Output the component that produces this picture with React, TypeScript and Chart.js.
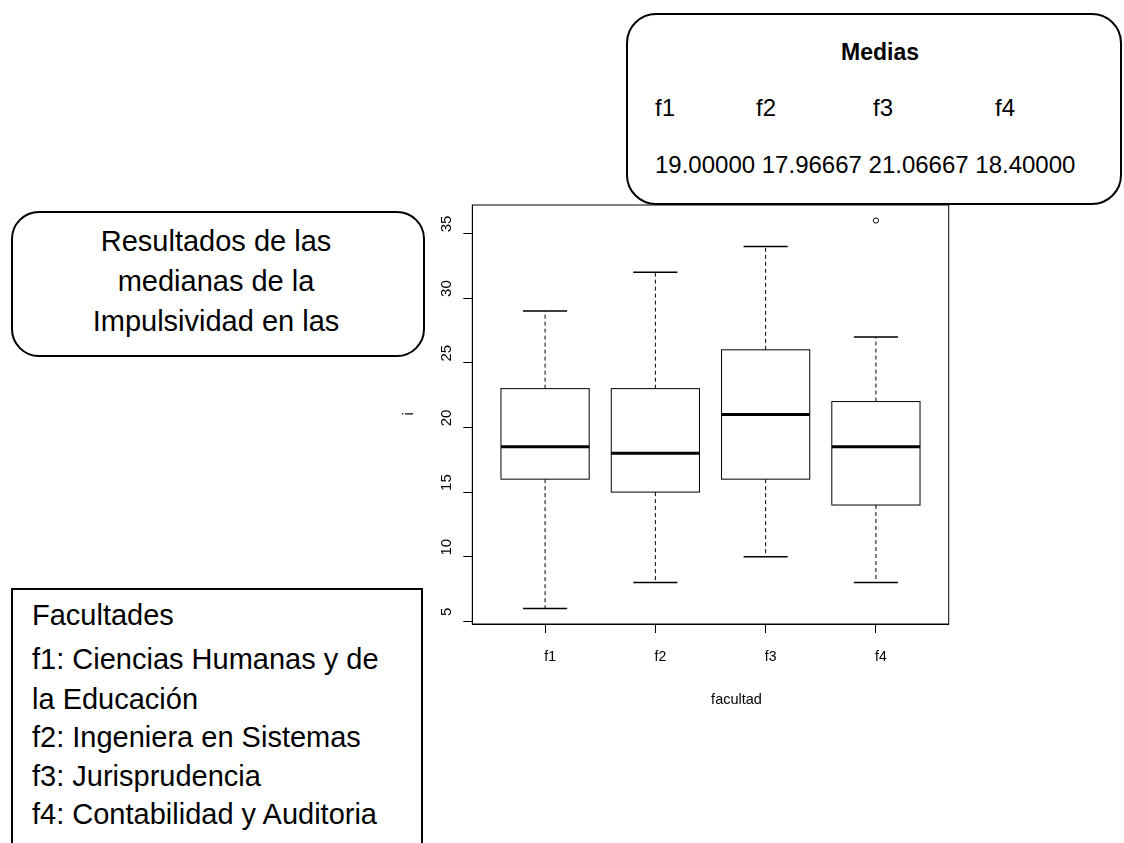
import React, { useEffect, useRef } from "react";
import { Chart, registerables } from "chart.js";

Chart.register(...registerables);

// ---- data ----
const categories = ["f1", "f2", "f3", "f4"];
const whiskerLow = [6, 8, 10, 8];
const q1 = [16, 15, 16, 14];
const medians = [18.5, 18, 21, 18.5];
const q3 = [23, 23, 26, 22];
const whiskerHigh = [29, 32, 34, 27];
const outlierGroups = [4];
const outlierValues = [36];
const yTicks = [5, 10, 15, 20, 25, 30, 35];
const xTitle = "facultad";
const yTitle = "i";

const meanTitle = "Medias";
const meanLabels = ["f1", "f2", "f3", "f4"];
const meanValues = ["19.00000", "17.96667", "21.06667", "18.40000"];
const noteLines = ["Resultados de las", "medianas de la", "Impulsividad en las"];
const facultyLines = [
  "Facultades",
  "f1: Ciencias Humanas y de",
  "la Educación",
  "f2: Ingeniera en Sistemas",
  "f3: Jurisprudencia",
  "f4: Contabilidad y Auditoria",
];

const FONT = '"Liberation Sans", Arial, Helvetica, sans-serif';

const boxPlugin = {
  id: "rBoxes",
  beforeDatasetsDraw(chart: any) {
    const { ctx } = chart;
    const x = chart.scales.x;
    const y = chart.scales.y;
    const py = (v: number) => y.getPixelForValue(v);
    ctx.save();
    ctx.strokeStyle = "#000";
    categories.forEach((_, i) => {
      const cx = x.getPixelForValue(i + 1);
      const half = x.getPixelForValue(i + 1.4) - cx;
      const cap = half / 2;
      // whiskers
      ctx.lineWidth = 1;
      ctx.setLineDash([4, 3]);
      ctx.beginPath();
      ctx.moveTo(cx, py(q3[i]));
      ctx.lineTo(cx, py(whiskerHigh[i]));
      ctx.moveTo(cx, py(q1[i]));
      ctx.lineTo(cx, py(whiskerLow[i]));
      ctx.stroke();
      ctx.setLineDash([]);
      // staples
      ctx.lineWidth = 1.5;
      ctx.beginPath();
      ctx.moveTo(cx - cap, py(whiskerHigh[i]));
      ctx.lineTo(cx + cap, py(whiskerHigh[i]));
      ctx.moveTo(cx - cap, py(whiskerLow[i]));
      ctx.lineTo(cx + cap, py(whiskerLow[i]));
      ctx.stroke();
      // box
      const top = py(q3[i]);
      const bot = py(q1[i]);
      ctx.fillStyle = "#fff";
      ctx.fillRect(cx - half, top, 2 * half, bot - top);
      ctx.lineWidth = 1;
      ctx.strokeRect(cx - half, top, 2 * half, bot - top);
      // median
      ctx.lineWidth = 3;
      ctx.beginPath();
      ctx.moveTo(cx - half, py(medians[i]));
      ctx.lineTo(cx + half, py(medians[i]));
      ctx.stroke();
    });
    ctx.restore();
  },
  afterDraw(chart: any) {
    const { ctx, chartArea } = chart;
    const y = chart.scales.y;
    ctx.save();
    // full frame like R's box()
    ctx.strokeStyle = "#000";
    ctx.lineWidth = 1;
    ctx.strokeRect(
      chartArea.left,
      chartArea.top,
      chartArea.right - chartArea.left,
      chartArea.bottom - chartArea.top
    );
    // rotated y tick labels
    ctx.fillStyle = "#000";
    ctx.font = `15px ${FONT}`;
    ctx.textAlign = "center";
    ctx.textBaseline = "middle";
    yTicks.forEach((v) => {
      ctx.save();
      ctx.translate(chartArea.left - 25.5, y.getPixelForValue(v) - 9.5);
      ctx.rotate(-Math.PI / 2);
      ctx.fillText(String(v), 0, 0);
      ctx.restore();
    });
    // y title
    ctx.save();
    ctx.font = `14px ${FONT}`;
    ctx.translate(chartArea.left - 63, (chartArea.top + chartArea.bottom) / 2 - 0.5);
    ctx.rotate(-Math.PI / 2);
    ctx.fillText(yTitle, 0, 0);
    ctx.restore();
    // x title
    ctx.font = `14.5px ${FONT}`;
    ctx.textBaseline = "alphabetic";
    ctx.fillText(xTitle, (chartArea.left + chartArea.right) / 2 + 26, chartArea.bottom + 80);
    ctx.restore();
  },
};

function Txt(props: {
  x: number;
  base: number;
  size: number;
  bold?: boolean;
  center?: boolean;
  children: React.ReactNode;
}) {
  const { x, base, size, bold, center, children } = props;
  return (
    <div
      style={{
        position: "absolute",
        left: x,
        top: base - 0.8465 * size,
        fontSize: size,
        lineHeight: `${size}px`,
        fontWeight: bold ? "bold" : "normal",
        whiteSpace: "nowrap",
        transform: center ? "translateX(-50%)" : undefined,
        color: "#000",
      }}
    >
      {children}
    </div>
  );
}

export default function App() {
  const ref = useRef<HTMLCanvasElement | null>(null);

  useEffect(() => {
    if (!ref.current) return;
    const chart = new Chart(ref.current, {
      type: "scatter",
      data: {
        datasets: [
          {
            label: "outliers",
            data: outlierGroups.map((g, i) => ({ x: g, y: outlierValues[i] })),
            pointRadius: 2.6,
            pointBorderColor: "#000",
            pointBackgroundColor: "#fff",
            pointBorderWidth: 1,
            showLine: false,
          },
        ],
      },
      options: {
        responsive: false,
        maintainAspectRatio: false,
        animation: false,
        events: [],
        layout: { padding: { left: 432.3, right: 175.3, top: 205, bottom: 139 } },
        plugins: { legend: { display: false }, tooltip: { enabled: false } },
        scales: {
          x: {
            type: "linear",
            min: 0.34,
            max: 4.66,
            afterBuildTicks: (s: any) => {
              s.ticks = categories.map((_, i) => ({ value: i + 1 }));
            },
            afterFit: (s: any) => {
              s.height = 80;
            },
            ticks: {
              callback: (v: any) => categories[Number(v) - 1] ?? "",
              color: "#000",
              font: { family: FONT, size: 14 },
              padding: 16,
              labelOffset: 5,
              maxRotation: 0,
              autoSkip: false,
            },
            grid: { drawOnChartArea: false, drawTicks: true, tickLength: 9, color: "#000", lineWidth: 1 },
            border: { display: true, color: "#000", width: 1 },
          },
          y: {
            type: "linear",
            min: 4.8,
            max: 37.2,
            afterBuildTicks: (s: any) => {
              s.ticks = yTicks.map((v) => ({ value: v }));
            },
            afterFit: (s: any) => {
              s.width = 40;
            },
            ticks: { display: false },
            grid: { drawOnChartArea: false, drawTicks: true, tickLength: 9, color: "#000", lineWidth: 1 },
            border: { display: true, color: "#000", width: 1 },
          },
        },
      },
      plugins: [boxPlugin],
    });
    return () => chart.destroy();
  }, []);

  const meanX = [655, 756, 873, 995];

  return (
    <div
      style={{
        position: "absolute",
        left: 0,
        top: 0,
        width: 1124,
        height: 843,
        overflow: "hidden",
        background: "#fff",
        fontFamily: FONT,
      }}
    >
      <canvas
        ref={ref}
        width={1124}
        height={843}
        style={{ position: "absolute", left: 0, top: 0, width: 1124, height: 843 }}
      />
      {/* Medias box */}
      <div
        style={{
          position: "absolute",
          left: 626,
          top: 13,
          width: 496,
          height: 192,
          boxSizing: "border-box",
          border: "2px solid #000",
          borderRadius: 30,
          background: "#fff",
        }}
      />
      <Txt x={880} base={60} size={23} bold center>
        {meanTitle}
      </Txt>
      {meanLabels.map((l, i) => (
        <Txt key={l} x={meanX[i]} base={116} size={24}>
          {l}
        </Txt>
      ))}
      <Txt x={655} base={173} size={24}>
        {meanValues.join(" ")}
      </Txt>

      {/* Resultados box */}
      <div
        style={{
          position: "absolute",
          left: 11,
          top: 211,
          width: 414,
          height: 146,
          boxSizing: "border-box",
          border: "2px solid #000",
          borderRadius: 28,
          background: "#fff",
        }}
      />
      {noteLines.map((l, i) => (
        <Txt key={l} x={216} base={[252, 292, 332][i]} size={29} center>
          {l}
        </Txt>
      ))}

      {/* Facultades box */}
      <div
        style={{
          position: "absolute",
          left: 11,
          top: 588,
          width: 412,
          height: 300,
          boxSizing: "border-box",
          border: "2px solid #000",
          background: "#fff",
        }}
      />
      {facultyLines.map((l, i) => (
        <Txt key={l} x={32} base={[626, 670, 710, 748, 787, 825][i]} size={29}>
          {l}
        </Txt>
      ))}
    </div>
  );
}
